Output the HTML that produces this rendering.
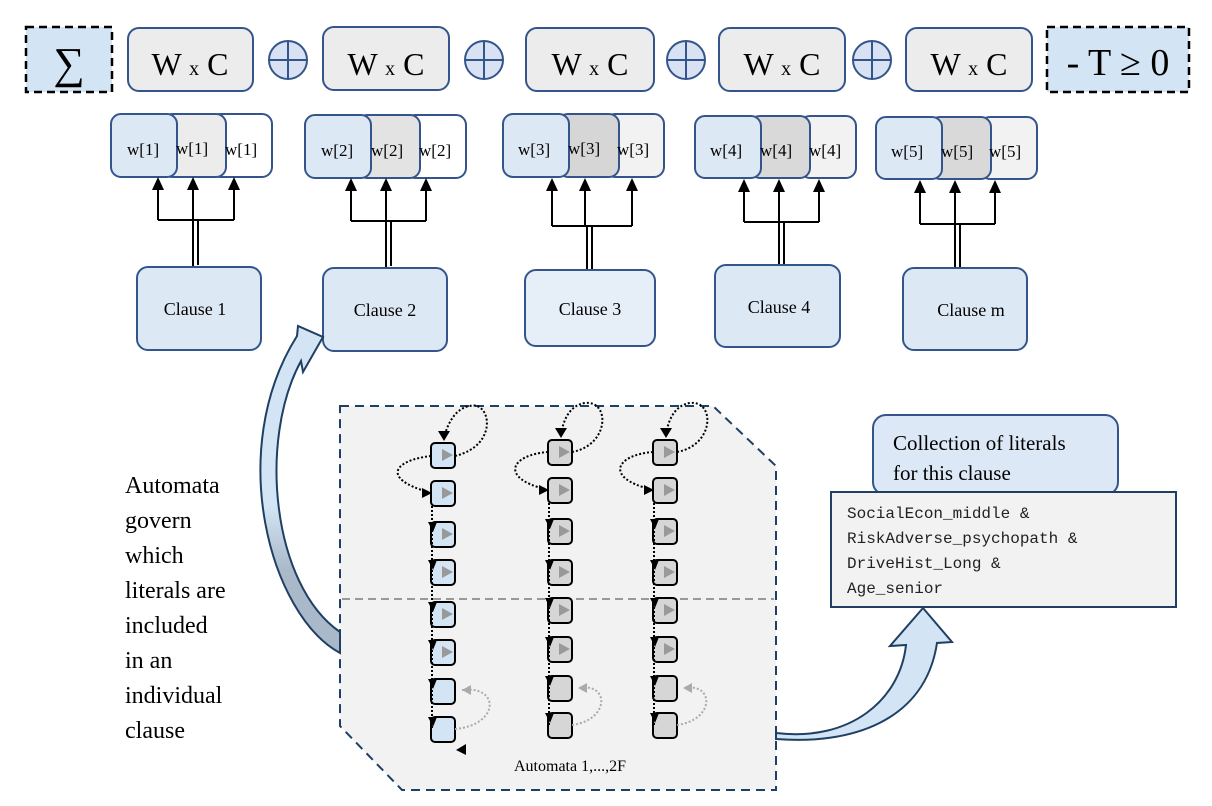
<!DOCTYPE html>
<html><head><meta charset="utf-8"><style>
html,body{margin:0;padding:0;background:#fff;}
svg{display:block;font-family:"Liberation Serif",serif;}
</style></head><body>
<svg width="1212" height="806" viewBox="0 0 1212 806" xmlns="http://www.w3.org/2000/svg">
<defs>
<linearGradient id="lg" x1="0" y1="0" x2="0" y2="1"><stop offset="0.55" stop-color="#d3e4f4"/><stop offset="0.75" stop-color="#a9b9c9"/></linearGradient>
</defs>
<!-- top row -->
<rect x="26" y="27" width="86" height="65" fill="#d3e4f4" stroke="#000" stroke-width="2.5" stroke-dasharray="8,5"/>
<text x="69" y="78" font-size="44" text-anchor="middle">∑</text>
<rect x="1047" y="27" width="142" height="65" fill="#d3e4f4" stroke="#000" stroke-width="2.5" stroke-dasharray="8,5"/>
<text x="1118" y="75" font-size="38" text-anchor="middle">- T ≥ 0</text>
<g fill="#ececec" stroke="#34558b" stroke-width="2">
<rect x="128" y="28" width="125" height="63" rx="11"/>
<rect x="323" y="27" width="126" height="63" rx="11"/>
<rect x="526" y="28" width="128" height="63" rx="11"/>
<rect x="719" y="28" width="126" height="63" rx="11"/>
<rect x="906" y="28" width="126" height="63" rx="11"/>
</g>
<g font-size="32" text-anchor="middle">
<text x="190" y="75">W <tspan font-size="20">x</tspan> C</text>
<text x="386" y="75">W <tspan font-size="20">x</tspan> C</text>
<text x="590" y="75">W <tspan font-size="20">x</tspan> C</text>
<text x="782" y="75">W <tspan font-size="20">x</tspan> C</text>
<text x="969" y="75">W <tspan font-size="20">x</tspan> C</text>
</g>
<g fill="#d9e2f3" stroke="#34558b" stroke-width="2">
<circle cx="288" cy="60" r="19"/><circle cx="484" cy="60" r="19"/><circle cx="686" cy="60" r="19"/><circle cx="872" cy="60" r="19"/>
</g>
<g stroke="#34558b" stroke-width="2">
<path d="M269,60h38M288,41v38M465,60h38M484,41v38M667,60h38M686,41v38M853,60h38M872,41v38"/>
</g>
<!-- w groups -->
<g stroke="#34558b" stroke-width="2">
<rect x="210" y="114" width="62" height="63" rx="10" fill="#fff"/>
<rect x="162" y="114" width="64" height="63" rx="10" fill="#ececec"/>
<rect x="111" y="114" width="66" height="63" rx="10" fill="#dde8f5"/>
<rect x="405" y="115" width="61" height="63" rx="10" fill="#fff"/>
<rect x="357" y="115" width="63" height="63" rx="10" fill="#e3e3e3"/>
<rect x="305" y="115" width="66" height="63" rx="10" fill="#dde8f5"/>
<rect x="605" y="114" width="59" height="63" rx="10" fill="#f2f2f2"/>
<rect x="558" y="114" width="61" height="63" rx="10" fill="#d6d6d6"/>
<rect x="503" y="114" width="66" height="63" rx="10" fill="#dde8f5"/>
<rect x="800" y="116" width="56" height="62" rx="10" fill="#f2f2f2"/>
<rect x="750" y="116" width="60" height="62" rx="10" fill="#d9d9d9"/>
<rect x="695" y="116" width="66" height="62" rx="10" fill="#dde8f5"/>
<rect x="980" y="117" width="57" height="62" rx="10" fill="#f2f2f2"/>
<rect x="930" y="117" width="61" height="62" rx="10" fill="#d9d9d9"/>
<rect x="876" y="117" width="66" height="62" rx="10" fill="#dde8f5"/>
</g>
<g font-size="17" fill="#000">
<text x="127" y="155">w[1]</text><text x="176" y="154">w[1]</text><text x="225" y="155">w[1]</text>
<text x="321" y="156">w[2]</text><text x="371" y="156">w[2]</text><text x="419" y="156">w[2]</text>
<text x="518" y="155">w[3]</text><text x="568" y="154">w[3]</text><text x="617" y="155">w[3]</text>
<text x="710" y="156">w[4]</text><text x="760" y="156">w[4]</text><text x="809" y="156">w[4]</text>
<text x="891" y="157">w[5]</text><text x="941" y="157">w[5]</text><text x="989" y="157">w[5]</text>
</g>
<!-- connector trees -->
<g stroke="#000" stroke-width="2" fill="none">
<path d="M158,220V188M193,220V188M234,220V188M158,220H234M193,220V267M198,220V265"/>
<path d="M351,221V189M386,221V189M426,221V189M351,221H426M386,221V268M391,221V266"/>
<path d="M552,226V189M585,226V189M632,226V189M552,226H632M587,226V270M592,226V270"/>
<path d="M744,222V190M779,222V190M819,222V190M744,222H819M779,222V266M784,222V266"/>
<path d="M920,224V191M955,224V191M995,224V191M920,224H995M955,224V270M960,224V268"/>
</g>
<g fill="#000">
<path d="M158,177l-6,13h12z M193,177l-6,13h12z M234,177l-6,13h12z"/>
<path d="M351,178l-6,13h12z M386,178l-6,13h12z M426,178l-6,13h12z"/>
<path d="M552,178l-6,13h12z M585,178l-6,13h12z M632,178l-6,13h12z"/>
<path d="M744,179l-6,13h12z M779,179l-6,13h12z M819,179l-6,13h12z"/>
<path d="M920,180l-6,13h12z M955,180l-6,13h12z M995,180l-6,13h12z"/>
</g>
<!-- clauses -->
<g stroke="#34558b" stroke-width="2">
<rect x="137" y="267" width="124" height="83" rx="11" fill="#dde8f5"/>
<rect x="323" y="268" width="124" height="83" rx="11" fill="#dde8f5"/>
<rect x="525" y="270" width="130" height="76" rx="11" fill="#e6eef8"/>
<rect x="715" y="265" width="125" height="82" rx="11" fill="#dde8f5"/>
<rect x="903" y="268" width="124" height="82" rx="11" fill="#dde8f5"/>
</g>
<g font-size="18" text-anchor="middle">
<text x="195" y="315">Clause 1</text><text x="385" y="316">Clause 2</text><text x="590" y="315">Clause 3</text>
<text x="779" y="313">Clause 4</text><text x="971" y="316">Clause m</text>
</g>
<!-- automata box -->
<path d="M340,406 H713 L776,466 V790 H402 L340,726 Z" fill="#f2f2f2" stroke="#1f3f63" stroke-width="2" stroke-dasharray="9,6"/>
<line x1="342" y1="599" x2="774" y2="599" stroke="#999" stroke-width="2" stroke-dasharray="8,5"/>
<text x="570" y="771" font-size="16" text-anchor="middle">Automata 1,...,2F</text>
<!-- left arrow -->
<path d="M340,653 C270,615 225,450 297,336 L298,326 L323,337 L303,372 L301,361 C258,440 272,585 340,632 Z" fill="url(#lg)" stroke="#1f3f63" stroke-width="2"/>
<!-- right arrow -->
<path d="M776,733 C850,742 900,700 906,645 L890,646 L923,608 L952,642 L937,643 C925,722 850,745 776,739 Z" fill="#d3e4f4" stroke="#1f3f63" stroke-width="2"/>
<!-- automata columns -->
<g stroke="#000" stroke-width="2">
<g fill="#d3e4f4">
<rect x="431" y="443" width="24" height="25" rx="4"/><rect x="431" y="481" width="24" height="25" rx="4"/><rect x="431" y="522" width="24" height="25" rx="4"/><rect x="431" y="560" width="24" height="25" rx="4"/><rect x="431" y="602" width="24" height="25" rx="4"/><rect x="431" y="640" width="24" height="25" rx="4"/><rect x="431" y="679" width="24" height="25" rx="4"/><rect x="431" y="717" width="24" height="25" rx="4"/>
</g>
<g fill="#d6d6d6">
<rect x="548" y="440" width="24" height="25" rx="4"/><rect x="548" y="478" width="24" height="25" rx="4"/><rect x="548" y="519" width="24" height="25" rx="4"/><rect x="548" y="560" width="24" height="25" rx="4"/><rect x="548" y="598" width="24" height="25" rx="4"/><rect x="548" y="637" width="24" height="25" rx="4"/><rect x="548" y="676" width="24" height="25" rx="4"/><rect x="548" y="713" width="24" height="25" rx="4"/>
<rect x="653" y="440" width="24" height="25" rx="4"/><rect x="653" y="478" width="24" height="25" rx="4"/><rect x="653" y="519" width="24" height="25" rx="4"/><rect x="653" y="560" width="24" height="25" rx="4"/><rect x="653" y="598" width="24" height="25" rx="4"/><rect x="653" y="637" width="24" height="25" rx="4"/><rect x="653" y="676" width="24" height="25" rx="4"/><rect x="653" y="713" width="24" height="25" rx="4"/>
</g>
</g>
<g fill="#999">
<path d="M442,449l11,6l-11,6z M442,487l11,6l-11,6z M442,528l11,6l-11,6z M442,566l11,6l-11,6z M442,608l11,6l-11,6z M442,646l11,6l-11,6z"/>
<path d="M559,446l11,6l-11,6z M559,484l11,6l-11,6z M559,525l11,6l-11,6z M559,566l11,6l-11,6z M559,604l11,6l-11,6z M559,643l11,6l-11,6z"/>
<path d="M664,446l11,6l-11,6z M664,484l11,6l-11,6z M664,525l11,6l-11,6z M664,566l11,6l-11,6z M664,604l11,6l-11,6z M664,643l11,6l-11,6z"/>
</g>
<g fill="none" stroke="#000" stroke-width="2" stroke-dasharray="2,2">
<path d="M455,456 C500,445 490,400 470,406 C455,408 447,425 444,438"/>
<path d="M431,456 C395,460 380,478 428,492"/>
<path d="M572,452 C610,445 610,400 585,403 C570,405 563,420 561,435"/>
<path d="M548,452 C510,455 500,478 545,489"/>
<path d="M677,452 C715,445 715,400 690,403 C675,405 668,420 666,435"/>
<path d="M653,452 C615,455 605,478 650,489"/>
<path d="M432,506V730M549,503V726M654,503V726"/>
</g>
<g fill="none" stroke="#aaa" stroke-width="2" stroke-dasharray="2,2">
<path d="M455,729 C500,725 500,685 462,690"/>
<path d="M572,725 C610,720 610,682 578,688"/>
<path d="M677,725 C715,720 715,682 683,688"/>
</g>
<g fill="#000">
<path d="M438,431h12l-6,10z M555,428h12l-6,10z M660,428h12l-6,10z"/>
<path d="M422,488l10,5l-10,5z M539,485l10,5l-10,5z M644,485l10,5l-10,5z"/>
<path d="M428,522h9l-4,10z M428,560h9l-4,10z M428,602h9l-4,10z M428,640h9l-4,10z M428,679h9l-4,10z M428,717h9l-4,10z"/>
<path d="M545,519h9l-4,10z M545,560h9l-4,10z M545,598h9l-4,10z M545,637h9l-4,10z M545,676h9l-4,10z M545,713h9l-4,10z"/>
<path d="M650,519h9l-4,10z M650,560h9l-4,10z M650,598h9l-4,10z M650,637h9l-4,10z M650,676h9l-4,10z M650,713h9l-4,10z"/>
<path d="M456,750l10,-6v11z"/>
</g>
<g fill="#aaa"><path d="M462,690l9,-5v10z M578,688l9,-5v10z M683,688l9,-5v10z"/></g>
<!-- literal boxes -->
<rect x="873" y="415" width="245" height="80" rx="13" fill="#dce8f5" stroke="#34558b" stroke-width="2"/>
<text x="893" y="450" font-size="21">Collection of literals</text>
<text x="893" y="480" font-size="21">for this clause</text>
<rect x="831" y="492" width="345" height="115" fill="#f2f2f2" stroke="#1f3f63" stroke-width="2"/>
<g font-family="Liberation Mono, monospace" font-size="16" fill="#222">
<text x="847" y="518">SocialEcon_middle &amp;</text>
<text x="847" y="543">RiskAdverse_psychopath &amp;</text>
<text x="847" y="568">DriveHist_Long &amp;</text>
<text x="847" y="593">Age_senior</text>
</g>
<!-- left text -->
<g font-size="24">
<text x="125" y="493">Automata</text><text x="125" y="528">govern</text><text x="125" y="563">which</text>
<text x="125" y="598">literals are</text><text x="125" y="633">included</text><text x="125" y="668">in an</text>
<text x="125" y="703">individual</text><text x="125" y="738">clause</text>
</g>
</svg>
</body></html>
